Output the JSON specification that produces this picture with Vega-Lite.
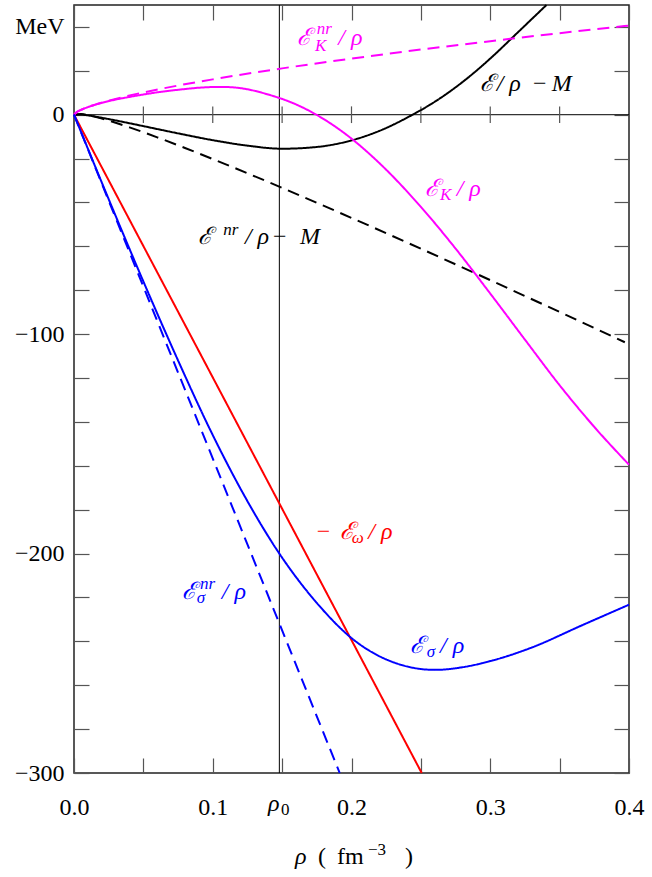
{
  "$schema": "https://vega.github.io/schema/vega-lite/v6.json",
  "width": 555,
  "height": 768,
  "autosize": {"type": "none"},
  "padding": {"left": 74, "top": 5, "right": 23, "bottom": 104},
  "background": "white",
  "config": {"view": {"stroke": "#222", "strokeWidth": 1.5}},
  "datasets": {
    "curves": [
      {"series": "E", "rho": 0, "e": 0},
      {"series": "E", "rho": 0.005, "e": 0.1},
      {"series": "E", "rho": 0.01, "e": -0.3},
      {"series": "E", "rho": 0.02, "e": -1.4},
      {"series": "E", "rho": 0.03, "e": -2.6},
      {"series": "E", "rho": 0.05, "e": -5.2},
      {"series": "E", "rho": 0.075, "e": -8.5},
      {"series": "E", "rho": 0.1, "e": -11.6},
      {"series": "E", "rho": 0.125, "e": -14.1},
      {"series": "E", "rho": 0.15, "e": -15.5},
      {"series": "E", "rho": 0.175, "e": -14.7},
      {"series": "E", "rho": 0.2, "e": -11.7},
      {"series": "E", "rho": 0.22, "e": -7.4},
      {"series": "E", "rho": 0.244, "e": 0},
      {"series": "E", "rho": 0.26, "e": 5.9},
      {"series": "E", "rho": 0.285, "e": 17.4},
      {"series": "E", "rho": 0.3, "e": 25.6},
      {"series": "E", "rho": 0.32, "e": 37.6},
      {"series": "E", "rho": 0.3405, "e": 50},
      {"series": "Enr", "rho": 0, "e": 0},
      {"series": "Enr", "rho": 0.005, "e": 0.37},
      {"series": "Enr", "rho": 0.01, "e": -0.16},
      {"series": "Enr", "rho": 0.02, "e": -1.75},
      {"series": "Enr", "rho": 0.03, "e": -3.67},
      {"series": "Enr", "rho": 0.04, "e": -5.77},
      {"series": "Enr", "rho": 0.06, "e": -10.31},
      {"series": "Enr", "rho": 0.08, "e": -15.15},
      {"series": "Enr", "rho": 0.1, "e": -20.19},
      {"series": "Enr", "rho": 0.125, "e": -26.68},
      {"series": "Enr", "rho": 0.15, "e": -33.33},
      {"series": "Enr", "rho": 0.2, "e": -47.02},
      {"series": "Enr", "rho": 0.25, "e": -61.06},
      {"series": "Enr", "rho": 0.3, "e": -75.38},
      {"series": "Enr", "rho": 0.35, "e": -89.9},
      {"series": "Enr", "rho": 0.397, "e": -103.7},
      {"series": "K", "rho": 0, "e": 0},
      {"series": "K", "rho": 0.002, "e": 1.19},
      {"series": "K", "rho": 0.005, "e": 2.19},
      {"series": "K", "rho": 0.01, "e": 3.45},
      {"series": "K", "rho": 0.02, "e": 5.4},
      {"series": "K", "rho": 0.03, "e": 6.9},
      {"series": "K", "rho": 0.04, "e": 8.1},
      {"series": "K", "rho": 0.05, "e": 9.2},
      {"series": "K", "rho": 0.06, "e": 10.2},
      {"series": "K", "rho": 0.07, "e": 11.0},
      {"series": "K", "rho": 0.08, "e": 11.7},
      {"series": "K", "rho": 0.09, "e": 12.3},
      {"series": "K", "rho": 0.1, "e": 12.6},
      {"series": "K", "rho": 0.11, "e": 12.6},
      {"series": "K", "rho": 0.12, "e": 12.1},
      {"series": "K", "rho": 0.14, "e": 9.2},
      {"series": "K", "rho": 0.16, "e": 4.7},
      {"series": "K", "rho": 0.18, "e": -2.0},
      {"series": "K", "rho": 0.2, "e": -10.9},
      {"series": "K", "rho": 0.22, "e": -22.0},
      {"series": "K", "rho": 0.25, "e": -42.0},
      {"series": "K", "rho": 0.275, "e": -61.0},
      {"series": "K", "rho": 0.3, "e": -81.5},
      {"series": "K", "rho": 0.325, "e": -102.5},
      {"series": "K", "rho": 0.35, "e": -123.3},
      {"series": "K", "rho": 0.375, "e": -142.3},
      {"series": "K", "rho": 0.4, "e": -159.5},
      {"series": "Knr", "rho": 0, "e": 0},
      {"series": "Knr", "rho": 0.002, "e": 1.19},
      {"series": "Knr", "rho": 0.005, "e": 2.19},
      {"series": "Knr", "rho": 0.01, "e": 3.47},
      {"series": "Knr", "rho": 0.02, "e": 5.51},
      {"series": "Knr", "rho": 0.03, "e": 7.22},
      {"series": "Knr", "rho": 0.05, "e": 10.15},
      {"series": "Knr", "rho": 0.075, "e": 13.3},
      {"series": "Knr", "rho": 0.1, "e": 16.11},
      {"series": "Knr", "rho": 0.15, "e": 21.12},
      {"series": "Knr", "rho": 0.2, "e": 25.58},
      {"series": "Knr", "rho": 0.25, "e": 29.69},
      {"series": "Knr", "rho": 0.3, "e": 33.52},
      {"series": "Knr", "rho": 0.35, "e": 37.15},
      {"series": "Knr", "rho": 0.4, "e": 40.61},
      {"series": "w", "rho": 0, "e": 0},
      {"series": "w", "rho": 0.2506, "e": -300},
      {"series": "snr", "rho": 0, "e": 0},
      {"series": "snr", "rho": 0.1915, "e": -300},
      {"series": "s", "rho": 0, "e": 0},
      {"series": "s", "rho": 0.025, "e": -38.5},
      {"series": "s", "rho": 0.05, "e": -76},
      {"series": "s", "rho": 0.075, "e": -112},
      {"series": "s", "rho": 0.1, "e": -146},
      {"series": "s", "rho": 0.124, "e": -175},
      {"series": "s", "rho": 0.148, "e": -200},
      {"series": "s", "rho": 0.175, "e": -222.5},
      {"series": "s", "rho": 0.2, "e": -238.5},
      {"series": "s", "rho": 0.23, "e": -249.5},
      {"series": "s", "rho": 0.26, "e": -253},
      {"series": "s", "rho": 0.28, "e": -251.8},
      {"series": "s", "rho": 0.3, "e": -249},
      {"series": "s", "rho": 0.33, "e": -242.8},
      {"series": "s", "rho": 0.365, "e": -233},
      {"series": "s", "rho": 0.4, "e": -223.3}
    ],
    "ticks0": [
      {"t": 0.05}, {"t": 0.1}, {"t": 0.15}, {"t": 0.2}, {"t": 0.25}, {"t": 0.3}, {"t": 0.35}
    ],
    "mainItalic": [
      {"x": 0.1605, "y": 31.8, "t": "ℰ", "series": "Knr"},
      {"x": 0.1905, "y": 31.8, "t": "/ ρ", "series": "Knr"},
      {"x": 0.2926, "y": 10.6, "t": "ℰ", "series": "E"},
      {"x": 0.3046, "y": 10.6, "t": "/ ρ", "series": "E"},
      {"x": 0.3443, "y": 10.6, "t": "M", "series": "E"},
      {"x": 0.253, "y": -36.9, "t": "ℰ", "series": "K"},
      {"x": 0.2758, "y": -36.9, "t": "/ ρ", "series": "K"},
      {"x": 0.0896, "y": -58.9, "t": "ℰ", "series": "Enr"},
      {"x": 0.1232, "y": -58.9, "t": "/ ρ", "series": "Enr"},
      {"x": 0.1629, "y": -58.9, "t": "M", "series": "Enr"},
      {"x": 0.1917, "y": -193.4, "t": "ℰ", "series": "w"},
      {"x": 0.2121, "y": -193.4, "t": "/ ρ", "series": "w"},
      {"x": 0.0776, "y": -220.7, "t": "ℰ", "series": "snr"},
      {"x": 0.1065, "y": -220.7, "t": "/ ρ", "series": "snr"},
      {"x": 0.2422, "y": -245.1, "t": "ℰ", "series": "s"},
      {"x": 0.2638, "y": -245.1, "t": "/ ρ", "series": "s"},
      {"x": 0.1398, "y": -317.2, "t": "ρ", "series": "axis"},
      {"x": 0.1593, "y": -341.4, "t": "ρ", "series": "axis"}
    ],
    "mainUpright": [
      {"x": 0.3308, "y": 10.6, "t": "−", "series": "E"},
      {"x": 0.1434, "y": -58.9, "t": "−", "series": "Enr"},
      {"x": 0.1749, "y": -193.4, "t": "−", "series": "w"},
      {"x": 0.1759, "y": -341.4, "t": "(", "series": "axis"},
      {"x": 0.1895, "y": -341.4, "t": "fm", "series": "axis"},
      {"x": 0.2386, "y": -341.4, "t": ")", "series": "axis"}
    ],
    "scriptItalic": [
      {"x": 0.175, "y": 36.8, "t": "nr", "series": "Knr"},
      {"x": 0.1737, "y": 29.2, "t": "K", "series": "Knr"},
      {"x": 0.2638, "y": -38.9, "t": "K", "series": "K"},
      {"x": 0.1076, "y": -54.7, "t": "nr", "series": "Enr"},
      {"x": 0.2001, "y": -195.4, "t": "ω", "series": "w"},
      {"x": 0.0908, "y": -216.2, "t": "nr", "series": "snr"},
      {"x": 0.0884, "y": -222.3, "t": "σ", "series": "snr"},
      {"x": 0.2542, "y": -247.0, "t": "σ", "series": "s"}
    ],
    "scriptUpright": [
      {"x": 0.1492, "y": -319, "t": "0", "series": "axis"},
      {"x": 0.2119, "y": -337.3, "t": "−3", "series": "axis"}
    ]
  },
  "resolve": {"axis": {"x": "independent", "y": "independent"}},
  "layer": [
    {
      "data": {"values": [{"rho0": 0.148}]},
      "mark": {"type": "rule", "color": "#000", "strokeWidth": 1},
      "encoding": {
        "x": {
          "field": "rho0", "type": "quantitative",
          "scale": {"domain": [0, 0.4], "nice": false, "zero": false},
          "axis": {
            "orient": "top", "values": [0, 0.05, 0.1, 0.15, 0.2, 0.25, 0.3, 0.35, 0.4],
            "labels": false, "tickSize": -15, "tickColor": "#555", "tickWidth": 1.2,
            "domain": false, "grid": false, "title": null
          }
        }
      }
    },
    {
      "data": {"values": [{"zero": 0}]},
      "mark": {"type": "rule", "color": "#000", "strokeWidth": 1},
      "encoding": {
        "y": {
          "field": "zero", "type": "quantitative",
          "scale": {"domain": [-300, 50], "nice": false, "zero": false},
          "axis": {
            "orient": "right",
            "values": [-300, -280, -260, -240, -220, -200, -180, -160, -140, -120, -100, -80, -60, -40, -20, 0, 20, 40],
            "labels": false, "tickSize": -15, "tickColor": "#555", "tickWidth": 1.2,
            "domain": false, "grid": false, "title": null
          }
        }
      }
    },
    {
      "data": {"name": "ticks0"},
      "mark": {"type": "rule", "color": "#555", "strokeWidth": 1.2},
      "encoding": {
        "x": {"field": "t", "type": "quantitative", "scale": {"domain": [0, 0.4], "nice": false, "zero": false}, "axis": null},
        "y": {"datum": -3.8, "type": "quantitative", "scale": {"domain": [-300, 50], "nice": false, "zero": false}, "axis": null},
        "y2": {"datum": 3.8}
      }
    },
    {
      "data": {"name": "curves"},
      "mark": {"type": "line", "strokeWidth": 2, "interpolate": "monotone"},
      "encoding": {
        "x": {
          "field": "rho", "type": "quantitative",
          "scale": {"domain": [0, 0.4], "nice": false, "zero": false},
          "axis": {
            "orient": "bottom", "values": [0, 0.05, 0.1, 0.15, 0.2, 0.25, 0.3, 0.35, 0.4],
            "labelExpr": "round(datum.value*20) % 2 == 0 ? format(datum.value, '.1f') : ''",
            "tickSize": -15, "tickColor": "#555", "tickWidth": 1.2, "labelPadding": 37,
            "labelFont": "Liberation Serif", "labelFontSize": 24, "labelColor": "#000",
            "labelFlush": false, "labelOverlap": false, "domain": false, "grid": false, "title": null
          }
        },
        "y": {
          "field": "e", "type": "quantitative",
          "scale": {"domain": [-300, 50], "nice": false, "zero": false},
          "axis": {
            "orient": "left",
            "values": [-300, -280, -260, -240, -220, -200, -180, -160, -140, -120, -100, -80, -60, -40, -20, 0, 20, 40],
            "labelExpr": "datum.value == 40 ? 'MeV' : (datum.value % 100 == 0 ? (datum.value < 0 ? '−' + abs(datum.value) : '0') : '')",
            "tickSize": -15, "tickColor": "#555", "tickWidth": 1.2, "labelPadding": 25,
            "labelFont": "Liberation Serif", "labelFontSize": 24, "labelColor": "#000",
            "labelOverlap": false, "labelBound": false, "domain": false, "grid": false, "title": null
          }
        },
        "color": {
          "field": "series", "type": "nominal",
          "scale": {
            "domain": ["E", "Enr", "K", "Knr", "w", "s", "snr", "axis"],
            "range": ["#000000", "#000000", "#ff00ff", "#ff00ff", "#ff0000", "#0000ff", "#0000ff", "#000000"]
          },
          "legend": null
        },
        "strokeDash": {
          "field": "series", "type": "nominal",
          "scale": {
            "domain": ["E", "Enr", "K", "Knr", "w", "s", "snr"],
            "range": [[1, 0], [12, 7], [1, 0], [12, 7], [1, 0], [1, 0], [12, 7]]
          },
          "legend": null
        }
      }
    },
    {
      "data": {"name": "mainItalic"},
      "mark": {"type": "text", "align": "left", "baseline": "alphabetic", "font": "Liberation Serif", "fontStyle": "italic", "fontSize": 24},
      "encoding": {
        "x": {"field": "x", "type": "quantitative", "scale": {"domain": [0, 0.4], "nice": false, "zero": false}, "axis": null},
        "y": {"field": "y", "type": "quantitative", "scale": {"domain": [-300, 50], "nice": false, "zero": false}, "axis": null},
        "text": {"field": "t"},
        "color": {"field": "series", "type": "nominal", "legend": null}
      }
    },
    {
      "data": {"name": "mainUpright"},
      "mark": {"type": "text", "align": "left", "baseline": "alphabetic", "font": "Liberation Serif", "fontSize": 24},
      "encoding": {
        "x": {"field": "x", "type": "quantitative", "scale": {"domain": [0, 0.4], "nice": false, "zero": false}, "axis": null},
        "y": {"field": "y", "type": "quantitative", "scale": {"domain": [-300, 50], "nice": false, "zero": false}, "axis": null},
        "text": {"field": "t"},
        "color": {"field": "series", "type": "nominal", "legend": null}
      }
    },
    {
      "data": {"name": "scriptItalic"},
      "mark": {"type": "text", "align": "left", "baseline": "alphabetic", "font": "Liberation Serif", "fontStyle": "italic", "fontSize": 17},
      "encoding": {
        "x": {"field": "x", "type": "quantitative", "scale": {"domain": [0, 0.4], "nice": false, "zero": false}, "axis": null},
        "y": {"field": "y", "type": "quantitative", "scale": {"domain": [-300, 50], "nice": false, "zero": false}, "axis": null},
        "text": {"field": "t"},
        "color": {"field": "series", "type": "nominal", "legend": null}
      }
    },
    {
      "data": {"name": "scriptUpright"},
      "mark": {"type": "text", "align": "left", "baseline": "alphabetic", "font": "Liberation Serif", "fontSize": 17},
      "encoding": {
        "x": {"field": "x", "type": "quantitative", "scale": {"domain": [0, 0.4], "nice": false, "zero": false}, "axis": null},
        "y": {"field": "y", "type": "quantitative", "scale": {"domain": [-300, 50], "nice": false, "zero": false}, "axis": null},
        "text": {"field": "t"},
        "color": {"field": "series", "type": "nominal", "legend": null}
      }
    }
  ]
}
